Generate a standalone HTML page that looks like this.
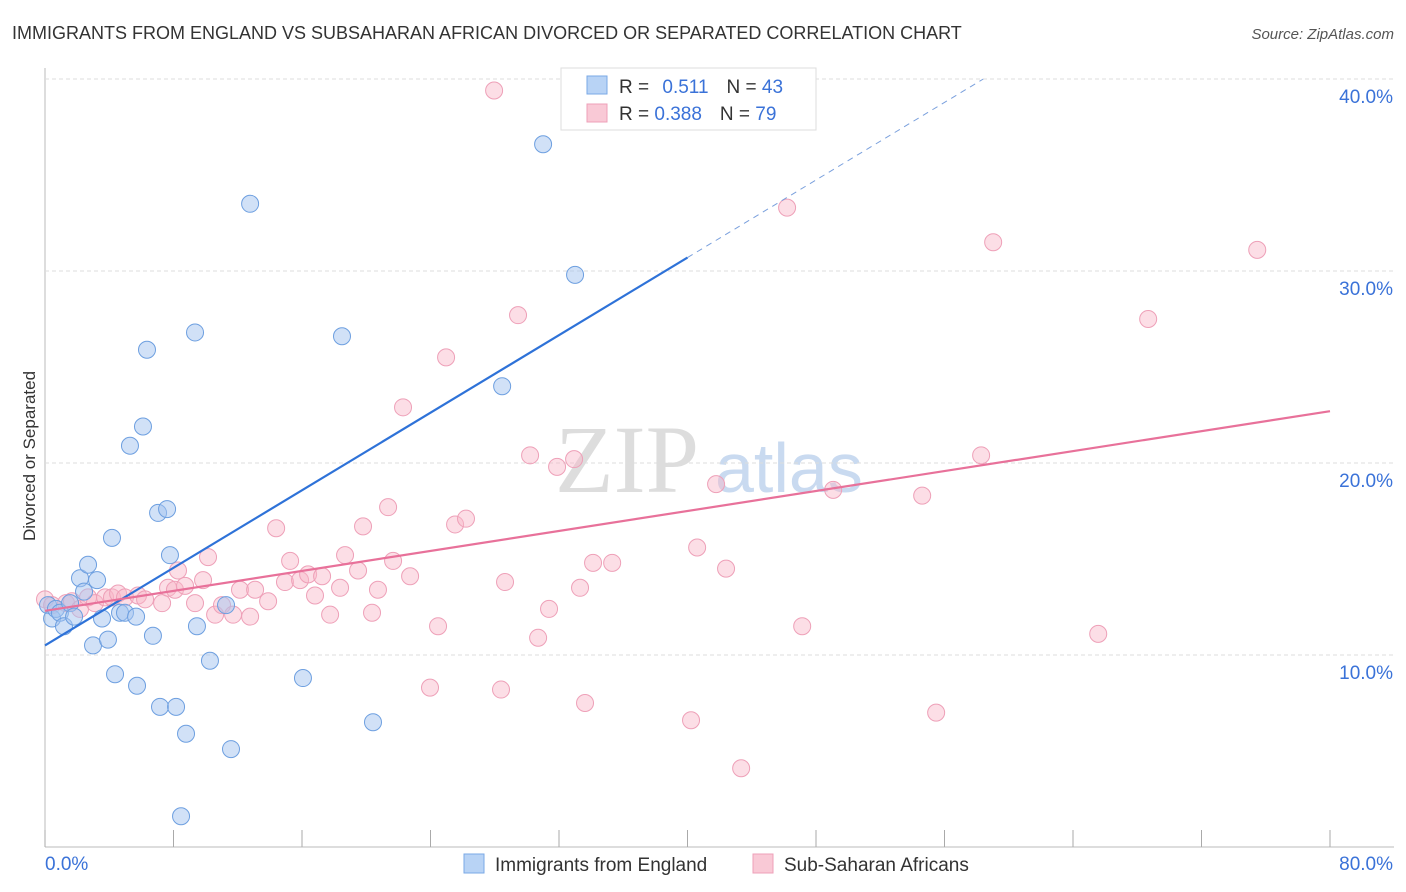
<!DOCTYPE html>
<html><head><meta charset="utf-8"><style>
body{margin:0;background:#fff;font-family:"Liberation Sans",sans-serif;}
svg{display:block}
</style></head><body>
<svg id="c" width="1406" height="892">
<text x="12" y="39" font-size="18" fill="#333">IMMIGRANTS FROM ENGLAND VS SUBSAHARAN AFRICAN DIVORCED OR SEPARATED CORRELATION CHART</text>
<text x="1394" y="39" font-size="15" fill="#555" font-style="italic" text-anchor="end">Source: ZipAtlas.com</text>
<text x="35" y="456" font-size="17" fill="#333" transform="rotate(-90 35 456)" text-anchor="middle">Divorced or Separated</text>
<text x="555" y="492" font-size="96" fill="#ddd" font-family="Liberation Serif">ZIP</text>
<text x="715" y="492" font-size="70" fill="#c9daf0">atlas</text>
<g id="grid"></g><g id="marks"></g><g id="lines"></g>
<g>
<rect x="561" y="68" width="255" height="62" fill="#fff" stroke="#ddd"/>
<rect x="587" y="76" width="20" height="18" fill="#b8d3f5" stroke="#7aa8e6"/>
<rect x="587" y="104" width="20" height="18" fill="#f9c9d6" stroke="#eea0b8"/>
<text x="619" y="93" font-size="19" fill="#333">R = <tspan fill="#3a72d8" dx="8">0.511</tspan><tspan fill="#333" dx="18">N = </tspan><tspan fill="#3a72d8">43</tspan></text>
<text x="619" y="120" font-size="19" fill="#333">R = <tspan fill="#3a72d8">0.388</tspan><tspan fill="#333" dx="18">N = </tspan><tspan fill="#3a72d8">79</tspan></text>
</g>
<g>
<rect x="464" y="854" width="20" height="19" fill="#b8d3f5" stroke="#7aa8e6"/>
<text x="495" y="871" font-size="19" fill="#333">Immigrants from England</text>
<rect x="753" y="854" width="20" height="19" fill="#f9c9d6" stroke="#eea0b8"/>
<text x="784" y="871" font-size="19" fill="#333">Sub-Saharan Africans</text>
</g>
</svg>
<script>
const yTicks=[10,20,30,40];
const xTickLabels=["0.0%","80.0%"];
const blueX=[0.19,0.44,0.68,0.93,1.18,1.56,1.81,2.18,2.43,2.68,2.99,3.24,3.55,3.92,4.17,4.36,4.67,4.98,5.67,5.73,6.35,6.10,5.29,6.72,7.04,7.16,7.60,7.78,8.16,8.78,8.47,9.34,9.46,10.27,11.27,11.58,12.77,16.06,18.49,20.42,28.46,31.01,33.0];
const blueY=[12.6,11.9,12.4,12.2,11.5,12.7,12.0,14.0,13.3,14.7,10.5,13.9,11.9,10.8,16.1,9.0,12.2,12.2,12.0,8.4,25.9,21.9,20.9,11.0,17.4,7.3,17.6,15.2,7.3,5.9,1.6,26.8,11.5,9.7,12.6,5.1,33.5,8.8,26.6,6.5,24.0,36.6,29.8];
const pinkX=[0.0,0.44,1.31,1.68,2.18,2.68,3.11,3.74,4.17,4.55,4.98,5.79,6.23,7.29,7.66,8.09,8.28,8.72,9.34,9.84,10.15,10.59,11.02,11.71,12.14,12.77,13.08,13.89,14.39,14.94,15.26,15.88,16.38,16.81,17.25,17.75,18.37,18.68,19.49,19.80,20.36,20.73,21.36,21.67,22.29,22.73,23.97,24.47,24.97,25.53,26.21,27.96,28.39,28.64,29.45,30.20,30.70,31.38,31.88,32.94,33.31,33.62,34.12,35.31,40.22,40.60,41.78,42.40,43.34,46.20,47.14,49.07,54.61,55.48,58.28,59.03,65.57,68.68,75.47];
const pinkY=[12.9,12.6,12.7,12.8,12.4,13.0,12.7,13.0,13.0,13.2,13.0,13.1,12.9,12.7,13.5,13.4,14.4,13.6,12.7,13.9,15.1,12.1,12.6,12.1,13.4,12.0,13.4,12.8,16.6,13.8,14.9,13.9,14.2,13.1,14.1,12.1,13.5,15.2,14.4,16.7,12.2,13.4,17.7,14.9,22.9,14.1,8.3,11.5,25.5,16.8,17.1,39.4,8.2,13.8,27.7,20.4,10.9,12.4,19.8,20.2,13.5,7.5,14.8,14.8,6.6,15.6,18.9,14.5,4.1,33.3,11.5,18.6,18.3,7.0,20.4,31.5,11.1,27.5,31.1];
const blueTrend=[10.5,0.505];
const pinkTrend=[12.3,0.13];
const X=v=>45+v*1285/80, Y=v=>847-v*19.2;
const NS="http://www.w3.org/2000/svg";
function mk(t,a,p){const e=document.createElementNS(NS,t);for(const k in a)e.setAttribute(k,a[k]);p.appendChild(e);return e;}
const g=document.getElementById('grid');
const ax=mk('line',{x1:45,y1:68,x2:45,y2:847,stroke:'#bbb'},g);


const bx=mk('line',{x1:45,y1:847,x2:1394,y2:847,stroke:'#bbb'},g);


yTicks.forEach(t=>{
 const l=mk('line',{x1:45,x2:1394,y1:Y(t),y2:Y(t),stroke:'#ddd','stroke-dasharray':'4,3'},g);
 
 
 const tx=mk('text',{x:1393,y:Y(t)+24,'font-size':19,fill:'#3a72d8','text-anchor':'end'},g);
 tx.textContent=t.toFixed(1)+'%';
 
 
});
for(let i=0;i<=10;i++){
 const l=mk('line',{x1:X(i*8),x2:X(i*8),y1:830,y2:847,stroke:'#aaa'},g);
 
 
}
xTickLabels.forEach((s,i)=>{
 const tx=mk('text',{x:i?1393:45,y:870,'font-size':19,fill:'#3a72d8','text-anchor':i?'end':'start'},g);
 tx.textContent=s;
 
 
});
const m=document.getElementById('marks');
pinkX.forEach((x,i)=>{
 const c=mk('circle',{cx:X(x),cy:Y(pinkY[i]),r:8.5,fill:'rgba(248,182,200,0.45)',stroke:'#eea0b8','stroke-width':1},m);
 
 
});
blueX.forEach((x,i)=>{
 const c=mk('circle',{cx:X(x),cy:Y(blueY[i]),r:8.5,fill:'rgba(163,196,240,0.5)',stroke:'#6d9fe0','stroke-width':1},m);
 
 
});
const L=document.getElementById('lines');
const xb=(40-blueTrend[0])/blueTrend[1];
const b1=mk('line',{x1:X(0),y1:Y(blueTrend[0]),x2:X(40),y2:Y(blueTrend[0]+40*blueTrend[1]),stroke:'#2e72d8','stroke-width':2.2},L);


const b2=mk('line',{x1:X(40),y1:Y(blueTrend[0]+40*blueTrend[1]),x2:X(xb),y2:Y(40),stroke:'#7aa0dd','stroke-width':1,'stroke-dasharray':'6,5'},L);


const p1=mk('line',{x1:X(0),y1:Y(pinkTrend[0]),x2:X(80),y2:Y(pinkTrend[0]+80*pinkTrend[1]),stroke:'#e8719a','stroke-width':2.2},L);


</script>
</body></html>
